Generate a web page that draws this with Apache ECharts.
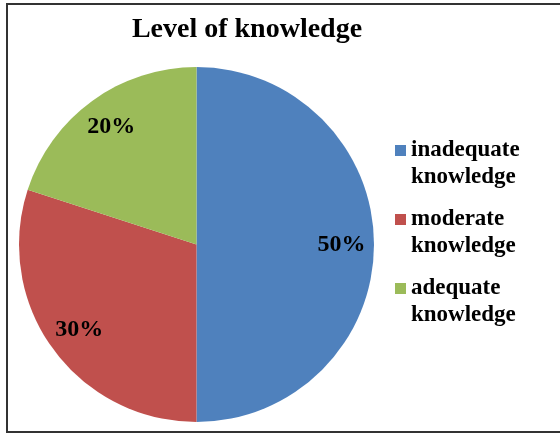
<!DOCTYPE html>
<html>
<head>
<meta charset="utf-8">
<script src="https://cdn.jsdelivr.net/npm/echarts@6/dist/echarts.min.js"></script>
<style>
  html, body { margin: 0; padding: 0; background: #fff; }
  #chart { width: 560px; height: 434px; }
</style>
</head>
<body>
<div id="chart"></div>
<script>
// knowledge levels, percent of respondents
const categories = ['inadequate knowledge', 'moderate knowledge', 'adequate knowledge'];
const values = [50, 30, 20];
const colors = ['#4F81BD', '#C0504D', '#9BBB59'];

const serif = '"Liberation Serif", "Times New Roman", serif';
const pieCenter = [196.5, 244.5];
const pieRadius = 177.5;

const pieData = categories.map((name, i) => ({
    name: name,
    value: values[i],
    itemStyle: { color: colors[i] }
}));

const option = {
    animation: false,
    backgroundColor: '#fff',
    title: {
        text: 'Level of knowledge',
        left: 242,
        textAlign: 'center',
        top: 11,
        textStyle: { fontFamily: serif, fontSize: 28, fontWeight: 'bold', color: '#000' }
    },
    legend: {
        orient: 'vertical',
        left: 390,
        top: 105,
        icon: 'rect',
        itemWidth: 11,
        itemHeight: 11,
        itemGap: -12,
        data: categories,
        // blank first line so the marker sits on the first visible line
        formatter: name => ' \n' + name.replace(' ', '\n'),
        textStyle: {
            fontFamily: serif,
            fontSize: 23,
            fontWeight: 'bold',
            color: '#000',
            lineHeight: 27
        }
    },
    graphic: [{
        type: 'rect',
        shape: { x: 7, y: 4, width: 560, height: 428 },
        style: { fill: 'none', stroke: '#333', lineWidth: 2 },
        silent: true
    }],
    series: [
        {
            type: 'pie',
            center: pieCenter,
            radius: pieRadius,
            startAngle: 90,
            clockwise: true,
            label: { show: false },
            labelLine: { show: false },
            emphasis: { disabled: true },
            data: pieData
        },
        {
            // transparent ring only to place the labels at ~0.8 r
            type: 'pie',
            center: pieCenter,
            radius: [pieRadius * 0.6, pieRadius],
            startAngle: 90,
            clockwise: true,
            silent: true,
            itemStyle: { color: 'transparent' },
            label: {
                show: true,
                position: 'inside',
                formatter: '{c}%',
                fontFamily: serif,
                fontSize: 24,
                fontWeight: 'bold',
                color: '#000'
            },
            labelLine: { show: false },
            emphasis: { disabled: true },
            data: categories.map((name, i) => ({ name: name, value: values[i] }))
        }
    ]
};

const chart = echarts.init(document.getElementById('chart'));
chart.setOption(option);
</script>
</body>
</html>
